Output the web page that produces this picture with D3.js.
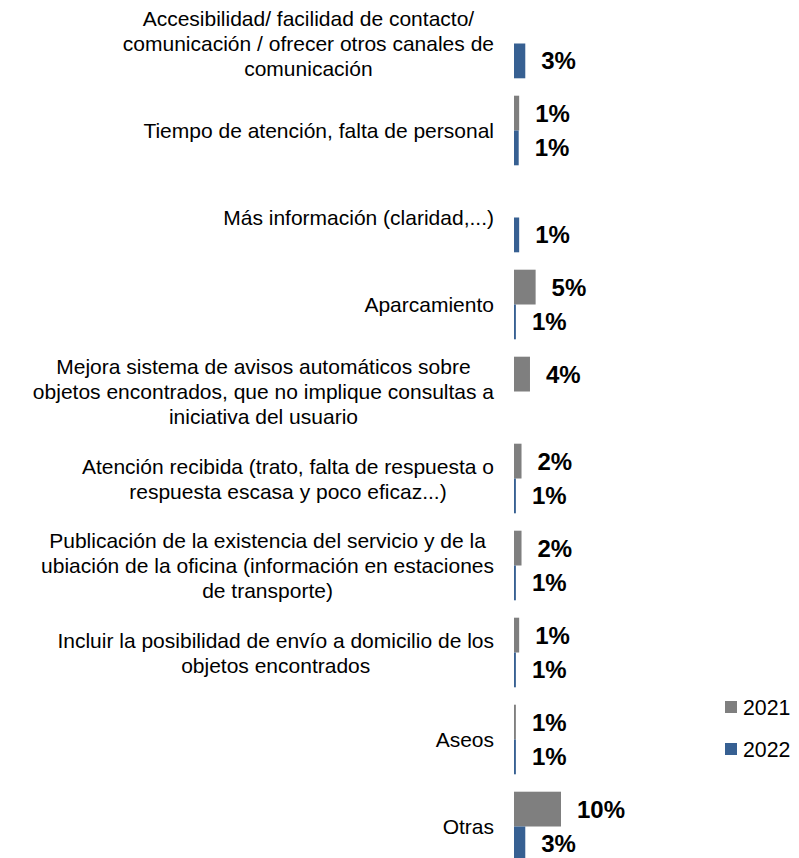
<!DOCTYPE html>
<html>
<head>
<meta charset="utf-8">
<script src="https://cdn.jsdelivr.net/npm/d3@7"></script>
<style>
  body { margin: 0; background: #fff; }
</style>
</head>
<body>
<div id="chart"></div>
<script>
// categories, each one already split into the lines shown
var categories = [
    ["Accesibilidad/ facilidad de contacto/", "comunicación / ofrecer otros canales de", "comunicación"],
    ["Tiempo de atención, falta de personal"],
    ["Más información (claridad,...)"],
    ["Aparcamiento"],
    ["Mejora sistema de avisos automáticos sobre", "objetos encontrados, que no implique consultas a", "iniciativa del usuario"],
    ["Atención recibida (trato, falta de respuesta o", "respuesta escasa y poco eficaz...)"],
    ["Publicación de la existencia del servicio y de la", "ubiación de la oficina (información en estaciones", "de transporte)"],
    ["Incluir la posibilidad de envío a domicilio de los", "objetos encontrados"],
    ["Aseos"],
    ["Otras"]
];

var years = ["2021", "2022"];

// percentages
var values2021 = [null, 1.1, null, 4.6, 3.4, 1.6, 1.6, 1.1, 0.4, 10.0];
var values2022 = [2.4, 1.0, 1.1, 0.4, null, 0.4, 0.4, 0.4, 0.4, 2.4];

// labels as printed on the chart
var labels2021 = [null, "1%", null, "5%", "4%", "2%", "2%", "1%", "1%", "10%"];
var labels2022 = ["3%", "1%", "1%", "1%", null, "1%", "1%", "1%", "1%", "3%"];

const WIDTH = 799;
const HEIGHT = 858;
const AXIS_X = 514;
const LABEL_RIGHT = 494;
const FONT = "Arial, 'Liberation Sans', sans-serif";
const COLORS = {"2021": "#7f7f7f", "2022": "#376092"};

var keys = categories.map(function (c) { return c.join(" "); });

var rows = [];
keys.forEach(function (k, i) {
    rows.push({cat: k, year: "2021", value: values2021[i], label: labels2021[i]});
    rows.push({cat: k, year: "2022", value: values2022[i], label: labels2022[i]});
});
rows = rows.filter(function (d) { return d.value != null; });

var svg = d3.select("#chart")
    .append("svg")
    .attr("width", WIDTH)
    .attr("height", HEIGHT)
    .style("display", "block");

svg.append("rect")
    .attr("width", WIDTH)
    .attr("height", HEIGHT)
    .attr("fill", "#ffffff");

var yScale = d3.scaleBand().domain(keys).range([0, 870]).paddingInner(0.2).paddingOuter(0.1);
var yInner = d3.scaleBand().domain(years).range([0, yScale.bandwidth()]);
var xScale = d3.scaleLinear().domain([0, 10]).range([AXIS_X, AXIS_X + 47]);

// bars
svg.append("g")
    .selectAll("rect")
    .data(rows)
    .enter()
    .append("rect")
    .attr("x", xScale(0))
    .attr("y", function (d) { return yScale(d.cat) + yInner(d.year); })
    .attr("width", function (d) { return xScale(d.value) - xScale(0); })
    .attr("height", yInner.bandwidth())
    .attr("fill", function (d) { return COLORS[d.year]; });

// value labels
svg.append("g")
    .selectAll("text")
    .data(rows.filter(function (d) { return d.label; }))
    .enter()
    .append("text")
    .attr("x", function (d) { return xScale(d.value) + 16; })
    .attr("y", function (d) { return yScale(d.cat) + yInner(d.year) + yInner.bandwidth() / 2 + 8.5; })
    .style("font-family", FONT)
    .style("font-size", "24px")
    .style("font-weight", "bold")
    .attr("fill", "#000")
    .text(function (d) { return d.label; });

// category labels: lines centred on each other, widest line ends at LABEL_RIGHT
var catG = svg.append("g")
    .selectAll("g")
    .data(categories)
    .enter()
    .append("g");

catG.each(function (lines, i) {
    var g = d3.select(this);
    var cy = yScale(keys[i]) + yScale.bandwidth() / 2;
    var texts = g.selectAll("text")
        .data(lines)
        .enter()
        .append("text")
        .attr("y", function (d, j) { return cy + (j - (lines.length - 1) / 2) * 25 + 7.5; })
        .attr("text-anchor", "middle")
        .style("font-family", FONT)
        .style("font-size", "21px")
        .attr("fill", "#000")
        .text(function (d) { return d; });
    var maxW = d3.max(texts.nodes(), function (n) { return n.getComputedTextLength(); });
    texts.attr("x", LABEL_RIGHT - maxW / 2);
});

// legend
var legend = svg.append("g")
    .selectAll("g")
    .data(years)
    .enter()
    .append("g")
    .attr("transform", function (d, i) { return "translate(725," + (707 + i * 42) + ")"; });

legend.append("rect")
    .attr("x", 0)
    .attr("y", -6)
    .attr("width", 12)
    .attr("height", 12)
    .attr("fill", function (d) { return COLORS[d]; });

legend.append("text")
    .attr("x", 18)
    .attr("y", 7.5)
    .style("font-family", FONT)
    .style("font-size", "21.3px")
    .attr("fill", "#000")
    .text(function (d) { return d; });
</script>
</body>
</html>
